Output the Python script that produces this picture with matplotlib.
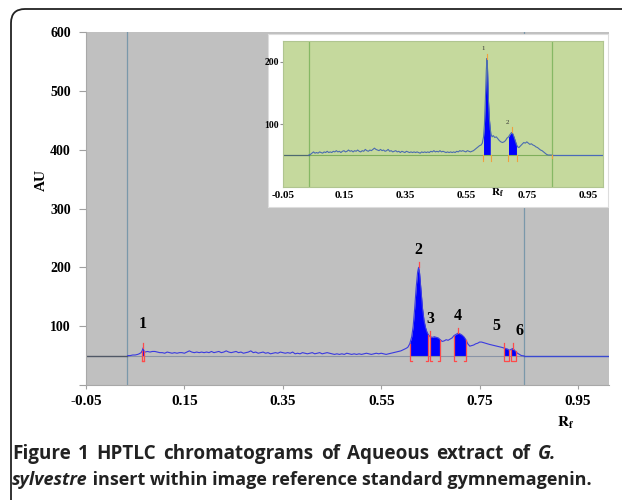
import numpy as np
import matplotlib.pyplot as plt
from matplotlib.patches import FancyBboxPatch
from matplotlib.transforms import IdentityTransform

plt.rcParams['mathtext.fontset'] = 'stix'

# main chromatogram (sample), Rf vs AU
rf_main = [0.035, 0.040, 0.045, 0.050, 0.055, 0.058, 0.062, 0.064, 0.066, 0.068,
           0.070, 0.075, 0.080, 0.085, 0.090, 0.095, 0.100, 0.105, 0.110, 0.115,
           0.120, 0.125, 0.130, 0.135, 0.140, 0.145, 0.150, 0.155, 0.160, 0.165,
           0.170, 0.175, 0.180, 0.185, 0.190, 0.195, 0.200, 0.205, 0.210, 0.215,
           0.220, 0.225, 0.230, 0.235, 0.240, 0.245, 0.250, 0.255, 0.260, 0.265,
           0.270, 0.275, 0.280, 0.285, 0.290, 0.295, 0.300, 0.305, 0.310, 0.315,
           0.320, 0.325, 0.330, 0.335, 0.340, 0.345, 0.350, 0.355, 0.360, 0.365,
           0.370, 0.375, 0.380, 0.385, 0.390, 0.395, 0.400, 0.405, 0.410, 0.415,
           0.420, 0.425, 0.430, 0.435, 0.440, 0.445, 0.450, 0.455, 0.460, 0.465,
           0.470, 0.475, 0.480, 0.485, 0.490, 0.495, 0.500, 0.505, 0.510, 0.515,
           0.520, 0.525, 0.530, 0.535, 0.540, 0.545, 0.550, 0.555, 0.560, 0.565,
           0.570, 0.575, 0.580, 0.585, 0.590, 0.595, 0.600, 0.604, 0.608, 0.612,
           0.615, 0.618, 0.621, 0.624, 0.626, 0.628, 0.631, 0.634, 0.637, 0.640,
           0.643, 0.646, 0.650, 0.654, 0.658, 0.662, 0.666, 0.670, 0.674, 0.678,
           0.682, 0.686, 0.690, 0.694, 0.698, 0.702, 0.706, 0.710, 0.714, 0.718,
           0.722, 0.726, 0.730, 0.734, 0.738, 0.742, 0.746, 0.750, 0.754, 0.758,
           0.762, 0.766, 0.770, 0.775, 0.780, 0.785, 0.790, 0.795, 0.799, 0.803,
           0.807, 0.810, 0.813, 0.817, 0.820, 0.823, 0.827, 0.831, 0.835, 0.840]
au_main = [50, 50, 51, 51, 52, 53, 55, 58, 63, 57,
           56, 57, 56, 57, 57, 56, 55, 55, 54, 56,
           55, 54, 55, 54, 55, 55, 54, 56, 58, 56,
           55, 56, 55, 56, 55, 56, 55, 57, 55, 56,
           57, 55, 56, 58, 56, 55, 56, 57, 55, 56,
           54, 55, 56, 58, 55, 56, 54, 55, 56, 54,
           55, 53, 54, 55, 54, 56, 55, 54, 55, 54,
           56, 53, 54, 53, 55, 54, 53, 54, 55, 53,
           54, 55, 53, 54, 55, 54, 53, 52, 53, 52,
           53, 52, 54, 53, 52, 53, 52, 53, 52, 53,
           54, 53, 52, 53, 54, 53, 54, 53, 52, 53,
           54, 55, 56, 57, 58, 60, 62, 64, 70, 82,
           100, 130, 165, 192, 200, 190, 160, 130, 110, 98,
           90, 85, 82, 81, 82, 81, 80, 77, 74, 75,
           77, 76, 78, 80, 84, 86, 88, 87, 85, 82,
           77, 70, 66, 67, 68, 70, 71, 73, 73, 72,
           71, 70, 69, 68, 67, 66, 65, 64, 63, 62,
           61, 59, 60, 62, 60, 57, 54, 52, 50, 49.5]
main_windows = [(0.064, 0.068), (0.608, 0.646), (0.650, 0.670), (0.698, 0.722),
                (0.799, 0.810), (0.813, 0.823)]
main_labels = ['1', '2', '3', '4', '5', '6']
main_baseline = 49.5
main_front = [0.033, 0.841]

# inset chromatogram (reference standard gymnemagenin)
rf_ins = [0.035, 0.040, 0.045, 0.050, 0.055, 0.060, 0.065, 0.070, 0.075, 0.080,
          0.085, 0.090, 0.095, 0.100, 0.105, 0.110, 0.115, 0.120, 0.125, 0.130,
          0.135, 0.140, 0.145, 0.150, 0.155, 0.160, 0.165, 0.170, 0.175, 0.180,
          0.185, 0.190, 0.195, 0.200, 0.205, 0.210, 0.215, 0.220, 0.225, 0.230,
          0.235, 0.240, 0.245, 0.250, 0.255, 0.260, 0.265, 0.270, 0.275, 0.280,
          0.285, 0.290, 0.295, 0.300, 0.305, 0.310, 0.315, 0.320, 0.325, 0.330,
          0.335, 0.340, 0.345, 0.350, 0.355, 0.360, 0.365, 0.370, 0.375, 0.380,
          0.385, 0.390, 0.395, 0.400, 0.405, 0.410, 0.415, 0.420, 0.425, 0.430,
          0.435, 0.440, 0.445, 0.450, 0.455, 0.460, 0.465, 0.470, 0.475, 0.480,
          0.485, 0.490, 0.495, 0.500, 0.505, 0.510, 0.515, 0.520, 0.525, 0.530,
          0.535, 0.540, 0.545, 0.550, 0.555, 0.560, 0.565, 0.570, 0.575, 0.580,
          0.585, 0.590, 0.595, 0.600, 0.604, 0.608, 0.611, 0.614, 0.617, 0.619,
          0.621, 0.624, 0.627, 0.630, 0.633, 0.636, 0.640, 0.645, 0.650, 0.655,
          0.660, 0.665, 0.670, 0.675, 0.680, 0.685, 0.690, 0.695, 0.700, 0.704,
          0.708, 0.712, 0.716, 0.720, 0.724, 0.728, 0.732, 0.736, 0.740, 0.745,
          0.750, 0.755, 0.760, 0.765, 0.770, 0.775, 0.780, 0.785, 0.790, 0.795,
          0.800, 0.805, 0.810, 0.815, 0.820, 0.830]
au_ins = [51, 52, 54, 56, 54, 55, 54, 56, 55, 54,
          56, 55, 57, 55, 56, 55, 57, 56, 58, 56,
          57, 55, 57, 58, 56, 57, 59, 57, 58, 56,
          58, 57, 59, 57, 56, 58, 57, 60, 58, 57,
          59, 58, 60, 62, 60, 59, 58, 60, 58, 59,
          57, 58, 60, 57, 58, 56, 57, 58, 56, 57,
          55, 57, 56, 55, 57, 56, 55, 56, 55, 56,
          55, 56, 55, 54, 56, 55, 56, 55, 56, 55,
          57, 56, 58, 56, 57, 56, 58, 56, 57, 56,
          55, 56, 55, 56, 55, 56, 55, 57, 56, 58,
          57, 58, 57, 56, 58, 57, 56, 57, 58, 60,
          62, 64, 66, 67, 70, 80, 100, 140, 185, 205,
          190, 140, 110, 92, 84, 80, 82, 79, 80, 77,
          74, 72, 71, 72, 74, 78, 80, 84, 87, 85,
          80, 74, 68, 64, 63, 65, 67, 69, 71, 70,
          72, 70, 68, 69, 67, 66, 64, 63, 61, 59,
          58, 56, 54, 52, 51, 51]
ins_windows = [(0.606, 0.632), (0.688, 0.717)]
ins_labels = ['1', '2']
ins_baseline = 51
ins_front = [0.035, 0.832]

caption_line1 = ['Figure', '1', 'HPTLC', 'chromatograms', 'of', 'Aqueous', 'extract', 'of', 'G.']
caption_line2 = 'insert within image reference standard gymnemagenin.'

rf_main = np.array(rf_main)
au_main = np.array(au_main)
rf_ins = np.array(rf_ins)
au_ins = np.array(au_ins)

serif = 'Liberation Serif'
# nudge for crowded peak labels (points)
label_dx = [0, 0, 0, 0, -5, 5]
label_dy = [8, 3, 3, 3, 6, 3]

fig = plt.figure(figsize=(6.22, 5.0), dpi=100)

# rounded frame around figure + caption
frame = FancyBboxPatch((11, -30), 660, 521, boxstyle='round,pad=0,rounding_size=14',
                       transform=IdentityTransform(), facecolor='none',
                       edgecolor='#222222', linewidth=1.3)
fig.patches.append(frame)

# ---- main plot ----
ax = fig.add_axes([86/622, 115/500, 523/622, 353/500])
ax.set_facecolor('#c0c0c0')
ax.set_xlim(-0.05, 1.013)
ax.set_ylim(0, 600)
for s in ['top', 'right']:
    ax.spines[s].set_visible(False)
for s in ['left', 'bottom']:
    ax.spines[s].set_color('#a8a8a8')
ax.set_yticks([0, 100, 200, 300, 400, 500, 600])
ax.set_yticklabels(['', '100', '200', '300', '400', '500', '600'])
ax.set_xticks([-0.05, 0.15, 0.35, 0.55, 0.75, 0.95])
ax.set_xticklabels(['-0.05', '0.15', '0.35', '0.55', '0.75', '0.95'])
ax.tick_params(axis='y', length=5, color='#a0a0a0', pad=6)
ax.tick_params(axis='x', length=3, color='#a0a0a0', pad=4)
for lab in ax.get_yticklabels():
    lab.set_fontfamily(serif); lab.set_fontweight('bold'); lab.set_fontsize(10)
for lab in ax.get_xticklabels():
    lab.set_fontfamily(serif); lab.set_fontweight('bold'); lab.set_fontsize(11)

for xv in main_front:
    ax.axvline(xv, color='#7a98aa', lw=0.9)
ax.plot([main_front[0], main_front[1]], [main_baseline, main_baseline], color='#8a94a6', lw=0.8)
ax.plot([-0.05, main_front[0]], [main_baseline, main_baseline], color='#505866', lw=1.0)
ax.plot([main_front[1], 1.013], [main_baseline, main_baseline], color='#3a4ad0', lw=1.0)
ax.plot(rf_main, au_main, color='#3a3ae0', lw=0.8)

for (s, e), lab, dx, dy in zip(main_windows, main_labels, label_dx, label_dy):
    m = (rf_main >= s) & (rf_main <= e)
    ax.fill_between(rf_main, main_baseline, au_main, where=m, color='#0000ff', lw=0)
    pk = rf_main[m][np.argmax(au_main[m])]
    top = au_main[m].max()
    ax.plot([s + 0.004, s, s, s], [40, 40, main_baseline, au_main[m][0]], color='#ff4a4a', lw=0.9)
    ax.plot([e - 0.004, e, e, e], [40, 40, main_baseline, au_main[m][-1]], color='#ff4a4a', lw=0.9)
    ax.plot([pk, pk], [top, top + 9], color='#ff4a4a', lw=0.9)
    ax.annotate(lab, (pk, top + 9), xytext=(dx, dy), textcoords='offset points',
                ha='center', va='bottom', fontfamily=serif, fontweight='bold', fontsize=11.5)

fig.text(41/622, 1 - 180/500, 'AU', rotation=90, ha='center', va='center',
         fontfamily=serif, fontweight='bold', fontsize=11)
fig.text(566/622, 1 - 423/500, r'$\mathbf{R}_{\mathbf{f}}$', ha='center', va='center', fontsize=11)

# ---- inset ----
axb = fig.add_axes([268/622, 293/500, 340/622, 173/500])
axb.set_facecolor('white')
axb.set_xticks([]); axb.set_yticks([])
for s in axb.spines.values():
    s.set_color('#dddddd')

axi = fig.add_axes([283/622, 313/500, 320/622, 146/500])
axi.set_facecolor('#c5d99d')
axi.set_xlim(-0.05, 1.0)
axi.set_ylim(0, 233)
for s in axi.spines.values():
    s.set_color('#b0c590')
axi.set_yticks([100, 200])
axi.set_yticklabels(['100', '200'])
axi.set_xticks([-0.05, 0.15, 0.35, 0.55, 0.75, 0.95])
axi.set_xticklabels(['-0.05', '0.15', '0.35', '0.55', '0.75', '0.95'])
axi.tick_params(axis='y', length=2, color='#909090', pad=1)
axi.tick_params(axis='x', length=0, pad=3)
for lab in axi.get_yticklabels():
    lab.set_fontfamily(serif); lab.set_fontweight('bold'); lab.set_fontsize(7)
for lab in axi.get_xticklabels():
    lab.set_fontfamily(serif); lab.set_fontweight('bold'); lab.set_fontsize(8)

for xv in ins_front:
    axi.axvline(xv, color='#86b865', lw=0.9)
axi.plot([ins_front[0], ins_front[1]], [ins_baseline, ins_baseline], color='#7fae5b', lw=0.8)
axi.plot([-0.05, ins_front[0]], [ins_baseline, ins_baseline], color='#4e6a70', lw=0.9)
axi.plot([ins_front[1], 1.0], [ins_baseline, ins_baseline], color='#4a6ab8', lw=0.9)
axi.plot(rf_ins, au_ins, color='#4b6cb0', lw=0.8)

for (s, e), lab in zip(ins_windows, ins_labels):
    m = (rf_ins >= s) & (rf_ins <= e)
    axi.fill_between(rf_ins, ins_baseline, au_ins, where=m, color='#0000ff', lw=0)
    pk = rf_ins[m][np.argmax(au_ins[m])]
    top = au_ins[m].max()
    axi.plot([s, s], [ins_baseline - 9, ins_baseline], color='#f0a040', lw=0.8)
    axi.plot([e, e], [ins_baseline - 9, ins_baseline], color='#f0a040', lw=0.8)
    axi.plot([pk, pk], [top, top + 8], color='#f0a040', lw=0.8)
    axi.annotate(lab, (pk, top + 8), xytext=(-3, 2), textcoords='offset points',
                 ha='center', va='bottom', fontfamily=serif, fontsize=5, color='#333333')
axi.plot([ins_front[1], ins_front[1]], [ins_baseline - 5, ins_baseline], color='#f0a040', lw=0.8)

fig.text(498/622, 1 - 193/500, r'$\mathbf{R}_{\mathbf{f}}$', ha='center', va='center', fontsize=8)

# ---- caption ----
cap_font = dict(fontfamily='Open Sans', fontweight='bold', color='#222222')
W = fig.bbox.width
r = fig.canvas.get_renderer()
y1 = 1 - 459/500
y2 = 1 - 485/500

# first line, word gaps widened a little so it ends where the original does
words = []
for w in caption_line1:
    st = 'italic' if w == 'G.' else 'normal'
    words.append(fig.text(0, y1, w, va='baseline', style=st, fontsize=13.6, **cap_font))
widths = [t.get_window_extent(r).width for t in words]
left_px, right_px = 12, 556
gap = (right_px - left_px - sum(widths)) / (len(words) - 1)
xpos = left_px
for t, wd in zip(words, widths):
    t.set_x(xpos / W)
    xpos += wd + gap

t2b = fig.text(12/W, y2, 'sylvestre', va='baseline', style='italic', fontsize=13, **cap_font)
bb2 = t2b.get_window_extent(r)
fig.text(bb2.x1 / W, y2, ' ' + caption_line2, va='baseline', fontsize=13, **cap_font)

fig.savefig('out.png', dpi=100)
